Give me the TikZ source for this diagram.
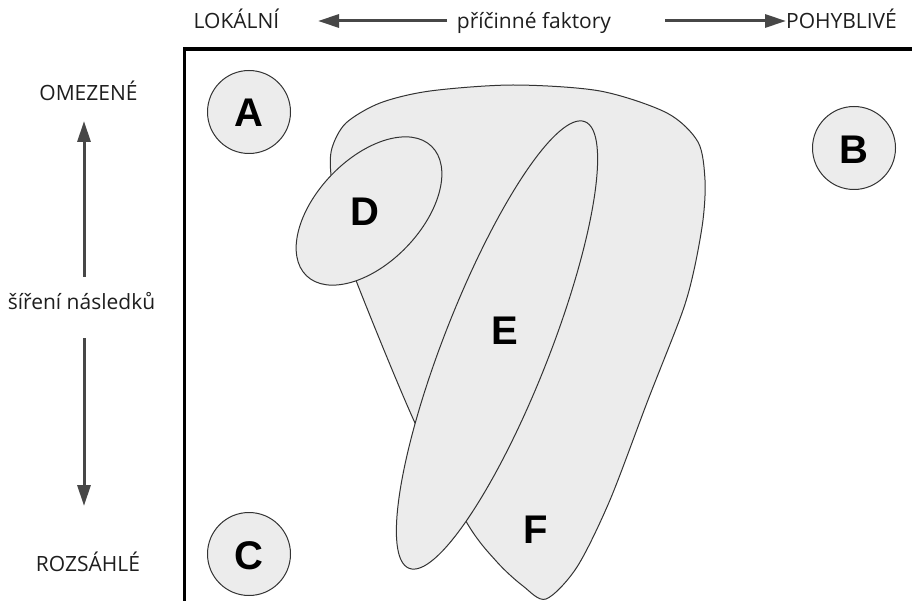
\documentclass[tikz,border=0pt]{standalone}
\usepackage{fontspec}
\setmainfont{Open Sans}
\newfontfamily\letterfont{Liberation Sans}
\usetikzlibrary{arrows.meta,shapes.geometric}

\definecolor{blobfill}{HTML}{ECECEC}
\definecolor{blobline}{HTML}{333333}
\definecolor{axisgray}{HTML}{474747}
\definecolor{labeltext}{HTML}{1E1E1E}

\tikzset{
  blob/.style={draw=blobline, line width=1pt, fill=blobfill},
  roundzone/.style={blob, circle, minimum size=83pt, inner sep=0pt},
  ovalzone/.style={blob, ellipse, inner sep=0pt},
  zoneletter/.style={font=\letterfont\bfseries\fontsize{40}{40}\selectfont, text=black, inner sep=0pt},
  axislabel/.style={font=\fontsize{21}{21}\selectfont, text=labeltext, inner sep=0pt, anchor=base},
  axisarrow/.style={draw=axisgray, line width=3pt, -{Triangle[length=21pt,width=13pt]}},
  frameline/.style={draw=black, line width=3.5pt}
}

\begin{document}
\begin{tikzpicture}[x=1pt,y=-1pt]
\useasboundingbox (0,0) rectangle (912,601);

% axis titles
\node[axislabel] (lok) at (236.5,29) {LOKÁLNÍ};
\node[axislabel] (pric) at (534,29) {příčinné faktory};
\node[axislabel] (poh) at (841.5,29) {POHYBLIVÉ};
\node[axislabel] (ome) at (88.5,101) {OMEZENÉ};
\node[axislabel] (sir) at (81.5,309) {šíření následků};
\node[axislabel] (roz) at (88,571) {ROZSÁHLÉ};

% axis arrows
\coordinate (hl0) at (447,21);
\coordinate (hl1) at (318,21);
\coordinate (hr0) at (665,21);
\coordinate (hr1) at (786,21);
\coordinate (vu0) at (84,277);
\coordinate (vu1) at (84,121);
\coordinate (vd0) at (84,338);
\coordinate (vd1) at (84,506);
\draw[axisarrow] (hl0) -- (hl1);
\draw[axisarrow] (hr0) -- (hr1);
\draw[axisarrow] (vu0) -- (vu1);
\draw[axisarrow] (vd0) -- (vd1);

% frame
\coordinate (fb) at (184.5,603);
\coordinate (fc) at (184.5,49);
\coordinate (fr) at (914,49);
\draw[frameline] (fb) -- (fc) -- (fr);

% the large zone that narrows into F
\path[blob] plot[smooth cycle, tension=0.5] coordinates {
  (357,283) (415,423) (467,523) (497,562) (523,586) (546,599)
  (577,567) (610,500) (648,400) (682,313) (694,270) (703,220) (705,180)
  (698,142) (667,113) (600,91) (513,85) (430,91) (380,103) (346,123)
  (332,148) (331,175) (340,230)
};

% zones E and D
\node[ovalzone, minimum width=480pt, minimum height=105pt, rotate=68.5] (E) at (497,345) {};
\node[ovalzone, minimum width=180pt, minimum height=104pt, rotate=46] (D) at (369,211) {};

% small round zones
\node[roundzone] (A) at (249,112) {};
\node[roundzone] (B) at (854,148) {};
\node[roundzone] (C) at (249,554) {};

% letters
\node[zoneletter] (lA) at (249,113) {A};
\node[zoneletter] (lB) at (854,150) {B};
\node[zoneletter] (lC) at (249,556) {C};
\node[zoneletter] (lD) at (365,212) {D};
\node[zoneletter] (lE) at (505,331) {E};
\node[zoneletter] (lF) at (536,530) {F};
\end{tikzpicture}
\end{document}
